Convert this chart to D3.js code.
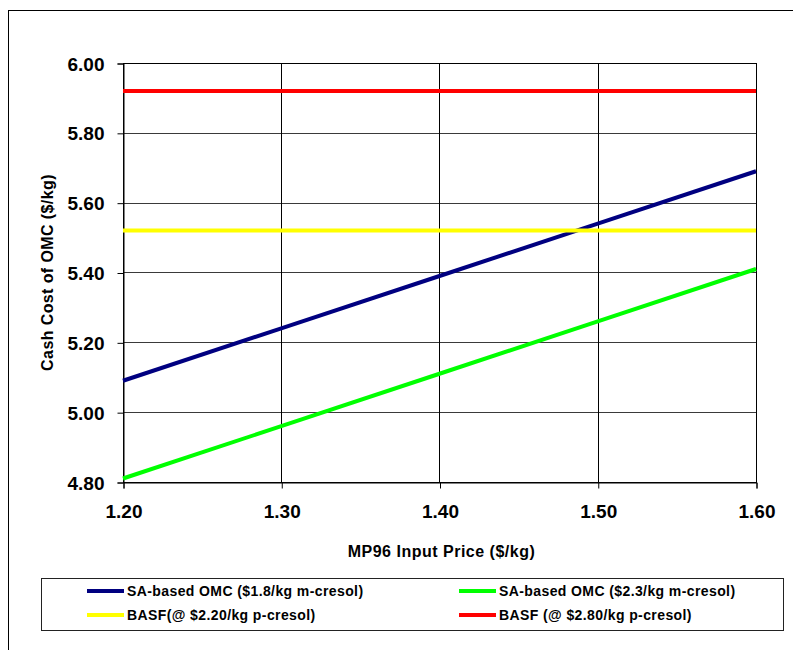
<!DOCTYPE html>
<html>
<head>
<meta charset="utf-8">
<script src="https://cdn.jsdelivr.net/npm/d3@7"></script>
<style>
  html, body { margin: 0; padding: 0; background: #fff; }
  svg { display: block; font-family: "Liberation Sans", Arial, sans-serif; }
</style>
</head>
<body>
<svg id="chart" width="793" height="650"></svg>
<script>
// MP96 input price ($/kg)
const prices = [1.20, 1.30, 1.40, 1.50, 1.60];
// Cash cost of OMC ($/kg) for each route
const saLowCresol = [5.09, 5.24, 5.39, 5.54, 5.69];
const saHighCresol = [4.81, 4.96, 5.11, 5.26, 5.41];
const basfLow = [5.52, 5.52, 5.52, 5.52, 5.52];
const basfHigh = [5.92, 5.92, 5.92, 5.92, 5.92];

const seriesNames = [
  "SA-based OMC ($1.8/kg m-cresol)",
  "SA-based OMC ($2.3/kg m-cresol)",
  "BASF(@ $2.20/kg p-cresol)",
  "BASF (@ $2.80/kg p-cresol)"
];
const seriesColors = ["#000080", "#00FF00", "#FFFF00", "#FF0000"];
const seriesValues = [saLowCresol, saHighCresol, basfLow, basfHigh];

const xTicks = [1.20, 1.30, 1.40, 1.50, 1.60];
const yTicks = [4.80, 5.00, 5.20, 5.40, 5.60, 5.80, 6.00];

const svg = d3.select("#chart");

// outer chart frame
svg.append("rect")
  .attr("x", 8.5).attr("y", 10.5)
  .attr("width", 800).attr("height", 700)
  .attr("fill", "none").attr("stroke", "#000").attr("stroke-width", 1);

const plot = { left: 123, top: 63, right: 756, bottom: 482 };

const x = d3.scaleLinear().domain([1.2, 1.6]).range([plot.left, plot.right]);
const y = d3.scaleLinear().domain([4.8, 6.0]).range([plot.bottom, plot.top]);

const g = svg.append("g");

// horizontal gridlines
g.append("g")
  .selectAll("line")
  .data(yTicks)
  .join("line")
  .attr("x1", plot.left).attr("x2", plot.right)
  .attr("y1", d => Math.round(y(d)) + 0.5).attr("y2", d => Math.round(y(d)) + 0.5)
  .attr("stroke", "#3a3a3a").attr("stroke-width", 1);

// vertical gridlines
g.append("g")
  .selectAll("line")
  .data(xTicks)
  .join("line")
  .attr("x1", d => Math.round(x(d)) + 0.5).attr("x2", d => Math.round(x(d)) + 0.5)
  .attr("y1", plot.top).attr("y2", plot.bottom)
  .attr("stroke", "#000").attr("stroke-width", 1);

// plot frame
g.append("rect")
  .attr("x", plot.left + 0.5).attr("y", plot.top + 0.5)
  .attr("width", plot.right - plot.left).attr("height", plot.bottom - plot.top)
  .attr("fill", "none").attr("stroke", "#000").attr("stroke-width", 1);

// axes
const xAxis = d3.axisBottom(x).tickValues(xTicks).tickFormat(d3.format(".2f"))
  .tickSize(6).tickPadding(16);
const yAxis = d3.axisLeft(y).tickValues(yTicks).tickFormat(d3.format(".2f"))
  .tickSize(6).tickPadding(13);

const gx = svg.append("g")
  .attr("transform", `translate(0.5,${plot.bottom + 0.5})`)
  .call(xAxis);
const gy = svg.append("g")
  .attr("transform", `translate(${plot.left + 0.5},0.5)`)
  .call(yAxis);

[gx, gy].forEach(a => {
  a.select(".domain").attr("stroke", "#000");
  a.selectAll(".tick line").attr("stroke", "#000");
  a.selectAll(".tick text")
    .attr("fill", "#000")
    .style("font-family", "'Liberation Sans', Arial, sans-serif")
    .style("font-size", "19px")
    .style("font-weight", "bold");
});
gy.selectAll(".tick text").attr("dy", "0.35em");

// series lines
const line = d3.line()
  .x((d, i) => x(prices[i]))
  .y(d => y(d));

svg.append("g")
  .selectAll("path")
  .data(seriesValues)
  .join("path")
  .attr("d", d => line(d))
  .attr("fill", "none")
  .attr("stroke", (d, i) => seriesColors[i])
  .attr("stroke-width", 4)
  .attr("stroke-linecap", "butt");

// axis titles
svg.append("text")
  .attr("x", (plot.left + plot.right) / 2 + 2)
  .attr("y", 557)
  .attr("text-anchor", "middle")
  .style("font-size", "16px")
  .style("font-weight", "bold")
  .style("letter-spacing", "0.5px")
  .text("MP96 Input Price ($/kg)");

svg.append("text")
  .attr("transform", `translate(53,${(plot.top + plot.bottom) / 2}) rotate(-90)`)
  .attr("text-anchor", "middle")
  .style("font-size", "16px")
  .style("font-weight", "bold")
  .style("letter-spacing", "0.4px")
  .text("Cash Cost of OMC ($/kg)");

// legend
const legend = svg.append("g");
legend.append("rect")
  .attr("x", 41.5).attr("y", 578.5)
  .attr("width", 742).attr("height", 52)
  .attr("fill", "#fff").attr("stroke", "#222").attr("stroke-width", 1);

const legendPos = [
  { lx: 87, ty: 591 },
  { lx: 459, ty: 591 },
  { lx: 87, ty: 615 },
  { lx: 459, ty: 615 }
];

const items = legend.selectAll("g.item")
  .data(seriesNames)
  .join("g")
  .attr("class", "item")
  .attr("transform", (d, i) => `translate(${legendPos[i].lx},${legendPos[i].ty})`);

items.append("line")
  .attr("x1", 0).attr("x2", 37)
  .attr("y1", 0).attr("y2", 0)
  .attr("stroke", (d, i) => seriesColors[i])
  .attr("stroke-width", 4);

items.append("text")
  .attr("x", 40)
  .attr("y", 0)
  .attr("dy", "0.36em")
  .style("font-size", "14px")
  .style("font-weight", "bold")
  .style("letter-spacing", "0.4px")
  .text(d => d);
</script>
</body>
</html>
